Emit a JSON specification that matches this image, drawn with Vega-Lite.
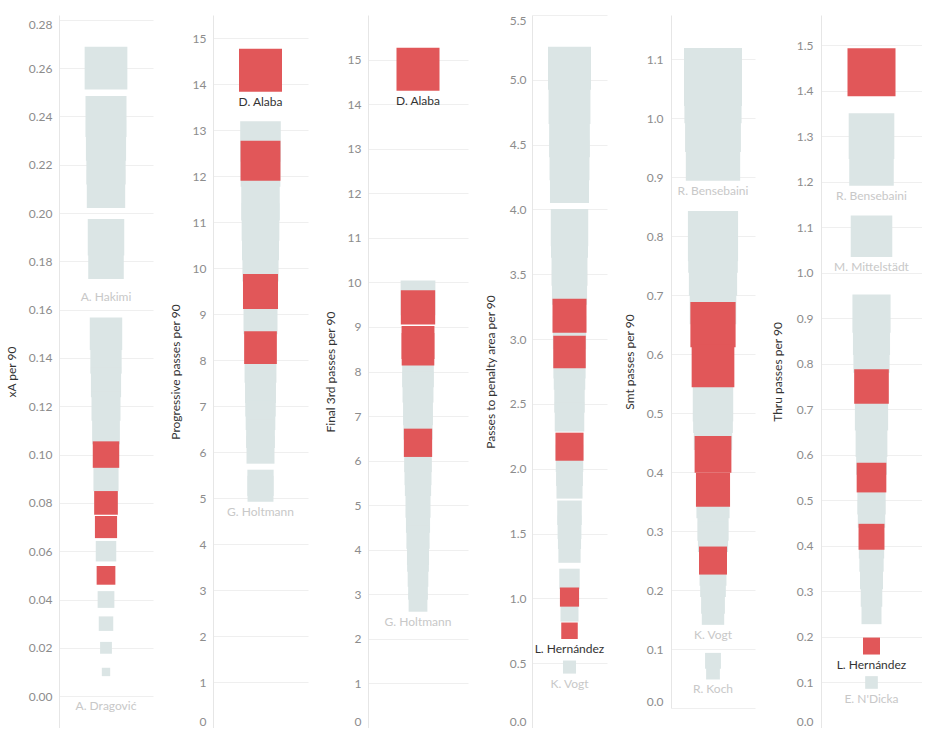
{
  "$schema": "https://vega.github.io/schema/vega-lite/v6.json",
  "padding": {"left": 5, "top": 14, "right": 0, "bottom": 0},
  "spacing": 16,
  "background": "white",
  "resolve": {"scale": {"size": "independent", "y": "independent", "color": "independent"}},
  "config": {
    "view": {"stroke": null},
    "font": "Lato",
    "axis": {
      "ticks": false, "tickSize": 0,
      "gridColor": "#efefef", "domainColor": "#e6e6e6",
      "labelColor": "#8c8c8c", "labelFont": "Lato", "labelFontSize": 12,
      "titleFont": "Lato", "titleFontSize": 12, "titleFontWeight": "normal", "titleColor": "#333333"
    }
  },
  "datasets": {
    "p1": [
      {"v": 0.26, "hl": 0}, {"v": 0.24, "hl": 0}, {"v": 0.23, "hl": 0}, {"v": 0.22, "hl": 0}, {"v": 0.21, "hl": 0},
      {"v": 0.19, "hl": 0}, {"v": 0.18, "hl": 0, "name": "A. Hakimi"},
      {"v": 0.15, "hl": 0}, {"v": 0.14, "hl": 0}, {"v": 0.13, "hl": 0}, {"v": 0.12, "hl": 0}, {"v": 0.11, "hl": 0},
      {"v": 0.10, "hl": 1}, {"v": 0.09, "hl": 0}, {"v": 0.08, "hl": 1}, {"v": 0.07, "hl": 1}, {"v": 0.06, "hl": 0},
      {"v": 0.05, "hl": 1}, {"v": 0.04, "hl": 0}, {"v": 0.03, "hl": 0}, {"v": 0.02, "hl": 0}, {"v": 0.01, "hl": 0},
      {"v": 0.0, "hl": 0, "name": "A. Dragović"}
    ],
    "p2": [
      {"v": 14.3, "hl": 1, "name": "D. Alaba"},
      {"v": 12.75, "hl": 0}, {"v": 12.33, "hl": 1}, {"v": 12.2, "hl": 0}, {"v": 11.45, "hl": 0}, {"v": 11.0, "hl": 0},
      {"v": 10.57, "hl": 0}, {"v": 10.1, "hl": 0}, {"v": 9.49, "hl": 1}, {"v": 8.93, "hl": 0}, {"v": 8.27, "hl": 1},
      {"v": 7.85, "hl": 0}, {"v": 7.4, "hl": 0}, {"v": 7.1, "hl": 0}, {"v": 6.8, "hl": 0}, {"v": 6.4, "hl": 0},
      {"v": 6.05, "hl": 0}, {"v": 5.33, "hl": 0}, {"v": 5.2, "hl": 0, "name": "G. Holtmann"}
    ],
    "p3": [
      {"v": 14.78, "hl": 1, "name": "D. Alaba"},
      {"v": 9.65, "hl": 0}, {"v": 9.44, "hl": 1}, {"v": 8.65, "hl": 1}, {"v": 8.5, "hl": 1}, {"v": 8.0, "hl": 0},
      {"v": 7.65, "hl": 0}, {"v": 7.13, "hl": 0}, {"v": 6.8, "hl": 0}, {"v": 6.4, "hl": 1}, {"v": 6.05, "hl": 0},
      {"v": 5.75, "hl": 0}, {"v": 5.5, "hl": 0}, {"v": 5.0, "hl": 0}, {"v": 4.65, "hl": 0}, {"v": 4.28, "hl": 0},
      {"v": 3.9, "hl": 0}, {"v": 3.75, "hl": 0}, {"v": 3.4, "hl": 0}, {"v": 3.1, "hl": 0},
      {"v": 2.82, "hl": 0, "name": "G. Holtmann"}
    ],
    "p4": [
      {"v": 5.09, "hl": 0}, {"v": 4.82, "hl": 0}, {"v": 4.56, "hl": 0}, {"v": 4.38, "hl": 0}, {"v": 4.2, "hl": 0},
      {"v": 3.86, "hl": 0}, {"v": 3.77, "hl": 0}, {"v": 3.55, "hl": 0}, {"v": 3.4, "hl": 0}, {"v": 3.18, "hl": 1},
      {"v": 3.05, "hl": 0}, {"v": 2.9, "hl": 1}, {"v": 2.82, "hl": 0}, {"v": 2.73, "hl": 0}, {"v": 2.55, "hl": 0},
      {"v": 2.4, "hl": 0}, {"v": 2.17, "hl": 1}, {"v": 2.08, "hl": 0}, {"v": 1.97, "hl": 0}, {"v": 1.87, "hl": 0},
      {"v": 1.66, "hl": 0}, {"v": 1.55, "hl": 0}, {"v": 1.47, "hl": 0}, {"v": 1.36, "hl": 0}, {"v": 1.15, "hl": 0},
      {"v": 1.01, "hl": 1}, {"v": 0.89, "hl": 0}, {"v": 0.75, "hl": 1, "name": "L. Hernández"}, {"v": 0.47, "hl": 0, "name": "K. Vogt"}
    ],
    "p5": [
      {"v": 1.07, "hl": 0}, {"v": 1.04, "hl": 0}, {"v": 0.99, "hl": 0}, {"v": 0.94, "hl": 0, "name": "R. Bensebaini"},
      {"v": 0.80, "hl": 0}, {"v": 0.78, "hl": 0}, {"v": 0.74, "hl": 0}, {"v": 0.69, "hl": 0}, {"v": 0.65, "hl": 1},
      {"v": 0.58, "hl": 1}, {"v": 0.52, "hl": 0}, {"v": 0.50, "hl": 0}, {"v": 0.47, "hl": 0}, {"v": 0.43, "hl": 1},
      {"v": 0.37, "hl": 1}, {"v": 0.35, "hl": 0}, {"v": 0.31, "hl": 0}, {"v": 0.29, "hl": 0}, {"v": 0.25, "hl": 1},
      {"v": 0.23, "hl": 0}, {"v": 0.21, "hl": 0}, {"v": 0.18, "hl": 0}, {"v": 0.16, "hl": 0, "name": "K. Vogt"},
      {"v": 0.08, "hl": 0}, {"v": 0.06, "hl": 0, "name": "R. Koch"}
    ],
    "p6": [
      {"v": 1.44, "hl": 1}, {"v": 1.30, "hl": 0}, {"v": 1.24, "hl": 0, "name": "R. Bensebaini"},
      {"v": 1.08, "hl": 0, "name": "M. Mittelstädt"},
      {"v": 0.91, "hl": 0}, {"v": 0.86, "hl": 0}, {"v": 0.82, "hl": 0}, {"v": 0.75, "hl": 1}, {"v": 0.69, "hl": 0},
      {"v": 0.63, "hl": 0}, {"v": 0.59, "hl": 0}, {"v": 0.55, "hl": 1}, {"v": 0.50, "hl": 0}, {"v": 0.47, "hl": 0},
      {"v": 0.42, "hl": 1}, {"v": 0.40, "hl": 0}, {"v": 0.37, "hl": 0}, {"v": 0.33, "hl": 0}, {"v": 0.29, "hl": 0},
      {"v": 0.25, "hl": 0}, {"v": 0.18, "hl": 1, "name": "L. Hernández"}, {"v": 0.10, "hl": 0, "name": "E. N'Dicka"}
    ]
  },
  "hconcat": [
    {
      "width": 94, "height": 713,
      "data": {"name": "p1"},
      "encoding": {"y": {"field": "v", "type": "quantitative",
        "scale": {"domain": [-0.0132, 0.282], "nice": false, "zero": false},
        "axis": {"title": "xA per 90", "values": [0, 0.02, 0.04, 0.06, 0.08, 0.1, 0.12, 0.14, 0.16, 0.18, 0.2, 0.22, 0.24, 0.26, 0.28],
          "format": ".2f", "labelFlush": 8, "minExtent": 34, "maxExtent": 34, "titlePadding": 7, "labelPadding": 7}}},
      "layer": [
        {"data": {"values": [{}]}, "mark": {"type": "rule", "color": "#a8a8a8", "strokeDash": [2, 2]}, "encoding": {"y": {"datum": 0}}},
        {"transform": [{"filter": "datum.hl == 0"}], "mark": {"type": "point", "shape": "square", "filled": true, "opacity": 1, "color": "#dbe5e5"},
          "encoding": {"size": {"field": "v", "type": "quantitative", "scale": {"domain": [0, 0.26], "range": [0, 1823]}, "legend": null}}},
        {"transform": [{"filter": "datum.hl == 1"}], "mark": {"type": "point", "shape": "square", "filled": true, "opacity": 1, "color": "#e15759"},
          "encoding": {"size": {"field": "v", "type": "quantitative", "scale": {"domain": [0, 0.26], "range": [0, 1823]}, "legend": null}}},
        {"transform": [{"filter": "isValid(datum.name)"}], "mark": {"type": "text", "baseline": "top", "font": "Lato", "fontSize": 12,
          "dy": {"expr": "sqrt(datum.v/0.26)*21.35 + (datum.name == 'A. Hakimi' ? 13 : 5)"}},
          "encoding": {"text": {"field": "name"}, "color": {"condition": {"test": "datum.hl == 1", "value": "#333333"}, "value": "#c8c8c8"}}}
      ]
    },
    {
      "width": 95, "height": 713,
      "data": {"name": "p2"},
      "encoding": {"y": {"field": "v", "type": "quantitative",
        "scale": {"domain": [0, 15.5], "nice": false, "zero": false},
        "axis": {"title": "Progressive passes per 90", "values": [0,1,2,3,4,5,6,7,8,9,10,11,12,13,14,15],
          "format": "d", "labelFlush": true, "minExtent": 22, "maxExtent": 22, "titlePadding": 9, "labelPadding": 7}}},
      "layer": [
        {"transform": [{"filter": "datum.hl == 0"}], "mark": {"type": "point", "shape": "square", "filled": true, "opacity": 1, "color": "#dbe5e5"},
          "encoding": {"size": {"field": "v", "type": "quantitative", "scale": {"domain": [0, 14.3], "range": [0, 1849]}, "legend": null}}},
        {"transform": [{"filter": "datum.hl == 1"}], "mark": {"type": "point", "shape": "square", "filled": true, "opacity": 1, "color": "#e15759"},
          "encoding": {"size": {"field": "v", "type": "quantitative", "scale": {"domain": [0, 14.3], "range": [0, 1849]}, "legend": null}}},
        {"transform": [{"filter": "isValid(datum.name)"}], "mark": {"type": "text", "baseline": "top", "font": "Lato", "fontSize": 12,
          "dy": {"expr": "sqrt(datum.v/14.3)*21.5 + 5"}},
          "encoding": {"text": {"field": "name"}, "color": {"condition": {"test": "datum.hl == 1", "value": "#333333"}, "value": "#c8c8c8"}}}
      ]
    },
    {
      "width": 100, "height": 713,
      "data": {"name": "p3"},
      "encoding": {"y": {"field": "v", "type": "quantitative",
        "scale": {"domain": [0, 16], "nice": false, "zero": false},
        "axis": {"title": "Final 3rd passes per 90", "values": [0,1,2,3,4,5,6,7,8,9,10,11,12,13,14,15],
          "format": "d", "labelFlush": true, "minExtent": 22, "maxExtent": 22, "titlePadding": 9, "labelPadding": 7}}},
      "layer": [
        {"transform": [{"filter": "datum.hl == 0"}], "mark": {"type": "point", "shape": "square", "filled": true, "opacity": 1, "color": "#dbe5e5"},
          "encoding": {"size": {"field": "v", "type": "quantitative", "scale": {"domain": [0, 14.78], "range": [0, 1849]}, "legend": null}}},
        {"transform": [{"filter": "datum.hl == 1"}], "mark": {"type": "point", "shape": "square", "filled": true, "opacity": 1, "color": "#e15759"},
          "encoding": {"size": {"field": "v", "type": "quantitative", "scale": {"domain": [0, 14.78], "range": [0, 1849]}, "legend": null}}},
        {"transform": [{"filter": "isValid(datum.name)"}], "mark": {"type": "text", "baseline": "top", "font": "Lato", "fontSize": 12,
          "dy": {"expr": "sqrt(datum.v/14.78)*21.5 + 5"}},
          "encoding": {"text": {"field": "name"}, "color": {"condition": {"test": "datum.hl == 1", "value": "#333333"}, "value": "#c8c8c8"}}}
      ]
    },
    {
      "width": 75, "height": 713,
      "data": {"name": "p4"},
      "encoding": {"y": {"field": "v", "type": "quantitative",
        "scale": {"domain": [0, 5.5], "nice": false, "zero": false},
        "axis": {"title": "Passes to penalty area per 90", "values": [0,0.5,1,1.5,2,2.5,3,3.5,4,4.5,5,5.5],
          "format": ".1f", "labelFlush": true, "minExtent": 26, "maxExtent": 26, "titlePadding": 9, "labelPadding": 6}}},
      "layer": [
        {"transform": [{"filter": "datum.hl == 0"}], "mark": {"type": "point", "shape": "square", "filled": true, "opacity": 1, "color": "#dbe5e5"},
          "encoding": {"size": {"field": "v", "type": "quantitative", "scale": {"domain": [0, 5.09], "range": [0, 1849]}, "legend": null}}},
        {"transform": [{"filter": "datum.hl == 1"}], "mark": {"type": "point", "shape": "square", "filled": true, "opacity": 1, "color": "#e15759"},
          "encoding": {"size": {"field": "v", "type": "quantitative", "scale": {"domain": [0, 5.09], "range": [0, 1849]}, "legend": null}}},
        {"transform": [{"filter": "isValid(datum.name)"}], "mark": {"type": "text", "baseline": "top", "font": "Lato", "fontSize": 12,
          "dy": {"expr": "sqrt(datum.v/5.09)*21.5 + 5"}},
          "encoding": {"text": {"field": "name"}, "color": {"condition": {"test": "datum.hl == 1", "value": "#333333"}, "value": "#c8c8c8"}}}
      ]
    },
    {
      "width": 84, "height": 693,
      "data": {"name": "p5"},
      "encoding": {"y": {"field": "v", "type": "quantitative",
        "scale": {"domain": [0, 1.175], "nice": false, "zero": false},
        "axis": {"title": "Smt passes per 90", "values": [0,0.1,0.2,0.3,0.4,0.5,0.6,0.7,0.8,0.9,1.0,1.1],
          "format": ".1f", "labelFlush": true, "minExtent": 26, "maxExtent": 26, "titlePadding": 9, "labelPadding": 8}}},
      "layer": [
        {"data": {"values": [{}]}, "mark": {"type": "rule", "color": "#d9d9d9"}, "encoding": {"y": {"datum": 0}}},
        {"transform": [{"filter": "datum.hl == 0"}], "mark": {"type": "point", "shape": "square", "filled": true, "opacity": 1, "color": "#dbe5e5"},
          "encoding": {"size": {"field": "v", "type": "quantitative", "scale": {"domain": [0, 1.07], "range": [0, 3364]}, "legend": null}}},
        {"transform": [{"filter": "datum.hl == 1"}], "mark": {"type": "point", "shape": "square", "filled": true, "opacity": 1, "color": "#e15759"},
          "encoding": {"size": {"field": "v", "type": "quantitative", "scale": {"domain": [0, 1.07], "range": [0, 3364]}, "legend": null}}},
        {"transform": [{"filter": "isValid(datum.name)"}], "mark": {"type": "text", "baseline": "top", "font": "Lato", "fontSize": 12,
          "dy": {"expr": "sqrt(datum.v/1.07)*29 + 5"}},
          "encoding": {"text": {"field": "name"}, "color": {"condition": {"test": "datum.hl == 1", "value": "#333333"}, "value": "#c8c8c8"}}}
      ]
    },
    {
      "width": 101, "height": 713,
      "data": {"name": "p6"},
      "encoding": {"y": {"field": "v", "type": "quantitative",
        "scale": {"domain": [0, 1.566], "nice": false, "zero": false},
        "axis": {"title": "Thru passes per 90", "values": [0,0.1,0.2,0.3,0.4,0.5,0.6,0.7,0.8,0.9,1.0,1.1,1.2,1.3,1.4,1.5],
          "format": ".1f", "labelFlush": true, "minExtent": 28, "maxExtent": 28, "titlePadding": 9, "labelPadding": 8}}},
      "layer": [
        {"transform": [{"filter": "datum.hl == 0"}], "mark": {"type": "point", "shape": "square", "filled": true, "opacity": 1, "color": "#dbe5e5"},
          "encoding": {"size": {"field": "v", "type": "quantitative", "scale": {"domain": [0, 1.44], "range": [0, 2304]}, "legend": null}}},
        {"transform": [{"filter": "datum.hl == 1"}], "mark": {"type": "point", "shape": "square", "filled": true, "opacity": 1, "color": "#e15759"},
          "encoding": {"size": {"field": "v", "type": "quantitative", "scale": {"domain": [0, 1.44], "range": [0, 2304]}, "legend": null}}},
        {"transform": [{"filter": "isValid(datum.name)"}], "mark": {"type": "text", "baseline": "top", "font": "Lato", "fontSize": 12,
          "dy": {"expr": "sqrt(datum.v/1.44)*24 + 5"}},
          "encoding": {"text": {"field": "name"}, "color": {"condition": {"test": "datum.hl == 1", "value": "#333333"}, "value": "#c8c8c8"}}}
      ]
    }
  ]
}
